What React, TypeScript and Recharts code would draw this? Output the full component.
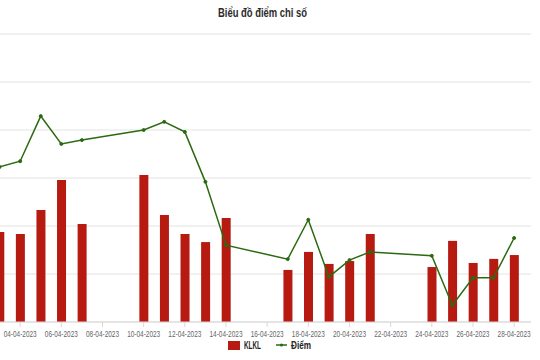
import React from "react";
import { ComposedChart, Bar, Line, XAxis, YAxis, CartesianGrid, Legend } from "recharts";

const FONT = '"Liberation Sans", "DejaVu Sans", sans-serif';

// trading days shown (April 2023)
const dates = [
  "03-04-2023", "04-04-2023", "05-04-2023", "06-04-2023", "07-04-2023",
  "10-04-2023", "11-04-2023", "12-04-2023", "13-04-2023", "14-04-2023",
  "17-04-2023", "18-04-2023", "19-04-2023", "20-04-2023", "21-04-2023",
  "24-04-2023", "25-04-2023", "26-04-2023", "27-04-2023", "28-04-2023",
];
// KLKL (volume), left axis
const klkl = [
  37.5, 36.7, 46.7, 59.2, 40.8,
  61.3, 44.6, 36.7, 33.3, 43.3,
  21.7, 29.2, 24.2, 25.4, 36.7,
  22.9, 33.8, 24.6, 26.3, 27.9,
];
// Điểm (index points), right axis
const diem = [
  1062.3, 1063.5, 1072.9, 1067.1, 1067.9,
  1070.0, 1071.7, 1069.6, 1059.2, 1046.0,
  1043.1, 1051.3, 1039.4, 1042.9, 1044.6,
  1043.8, 1033.5, 1039.2, 1039.2, 1047.5,
];
const tickLabels = [
  "04-04-2023", "06-04-2023", "08-04-2023", "10-04-2023", "12-04-2023", "14-04-2023", "16-04-2023",
  "18-04-2023", "20-04-2023", "22-04-2023", "24-04-2023", "26-04-2023", "28-04-2023",
];
const leftTicks = [0, 20, 40, 60, 80, 100, 120];
const rightTicks = [1030, 1040, 1050, 1060, 1070, 1080, 1090];

const dayOf = (d: string) => Number(d.slice(0, 2));

const BAR_COLOR = "#b71a10";
const LINE_COLOR = "#2c6a12";

// condensed-looking text: squeeze to the width the reference uses
function Narrow({ text, width, size, bold }: { text: string; width: number; size: number; bold?: boolean }) {
  return (
    <svg width={width + 4} height={18} style={{ display: "block", overflow: "visible" }}>
      <text
        x={1}
        y={13}
        fontSize={size}
        fontWeight={bold ? 700 : 400}
        fontFamily={FONT}
        fill="#222"
        textLength={width}
        lengthAdjust="spacingAndGlyphs"
      >
        {text}
      </text>
    </svg>
  );
}

function LegendBox() {
  return (
    <div style={{ display: "flex", justifyContent: "center", alignItems: "center", height: 16 }}>
      <span style={{ display: "inline-block", width: 12, height: 9, background: BAR_COLOR }} />
      <span style={{ marginLeft: 3 }}>
        <Narrow text="KLKL" width={17} size={11} bold />
      </span>
      <svg width={11} height={6} style={{ marginLeft: 12, display: "block" }}>
        <line x1={0} y1={3} x2={11} y2={3} stroke={LINE_COLOR} strokeWidth={1.5} />
        <circle cx={5.5} cy={3} r={1.6} fill={LINE_COLOR} />
      </svg>
      <span style={{ marginLeft: 3 }}>
        <Narrow text="Điểm" width={20} size={11} bold />
      </span>
    </div>
  );
}

function DateTick(props: any) {
  const { x, y, payload } = props;
  const label = tickLabels[tickLabels.map(dayOf).indexOf(payload.value)];
  return (
    <text
      x={x - 16.5}
      y={y + 7}
      fontSize={8.5}
      fontFamily={FONT}
      fill="#666"
      textLength={33}
      lengthAdjust="spacingAndGlyphs"
    >
      {label}
    </text>
  );
}

export default function App() {
  const data = dates.map((d, i) => ({ day: dayOf(d), klkl: klkl[i], diem: diem[i] }));
  const tickDays = tickLabels.map(dayOf);

  return (
    <div
      style={{
        position: "absolute",
        left: 0,
        top: 0,
        width: 540,
        height: 360,
        overflow: "hidden",
        background: "#fff",
        fontFamily: FONT,
      }}
    >
      <svg width={540} height={24} style={{ position: "absolute", left: 0, top: 0 }}>
        <text
          x={218}
          y={17}
          fontSize={13}
          fontWeight={700}
          fontFamily={FONT}
          fill="#2a2a2a"
          textLength={89}
          lengthAdjust="spacingAndGlyphs"
        >
          Biểu đồ điểm chỉ số
        </text>
      </svg>
      <div style={{ position: "absolute", left: -30, top: 0 }}>
        <ComposedChart width={640} height={360} data={data} margin={{ top: 34, right: 19, bottom: 7, left: 9 }}>
          <CartesianGrid vertical={false} stroke="#e4e4e4" yAxisId="left" />
          <XAxis
            type="number"
            dataKey="day"
            domain={[2, 28.82]}
            ticks={tickDays}
            interval={0}
            height={15}
            tickSize={5}
            tickMargin={3}
            tick={<DateTick />}
            stroke="#d8d8d8"
          />
          <YAxis yAxisId="left" hide domain={[0, 120]} ticks={leftTicks} />
          <YAxis
            yAxisId="right"
            orientation="right"
            domain={[1030, 1090]}
            ticks={rightTicks}
            width={60}
            axisLine={false}
            tickLine={false}
            tick={false}
          />
          <Bar yAxisId="left" dataKey="klkl" name="KLKL" fill={BAR_COLOR} barSize={9} isAnimationActive={false} />
          <Line
            yAxisId="right"
            type="linear"
            dataKey="diem"
            name="Điểm"
            stroke={LINE_COLOR}
            strokeWidth={1.5}
            dot={{ r: 1.5, fill: LINE_COLOR, stroke: LINE_COLOR, strokeWidth: 1 }}
            isAnimationActive={false}
          />
          <Legend verticalAlign="bottom" height={16} content={() => <LegendBox />} wrapperStyle={{ left: 0, width: 601 }} />
        </ComposedChart>
      </div>
    </div>
  );
}
